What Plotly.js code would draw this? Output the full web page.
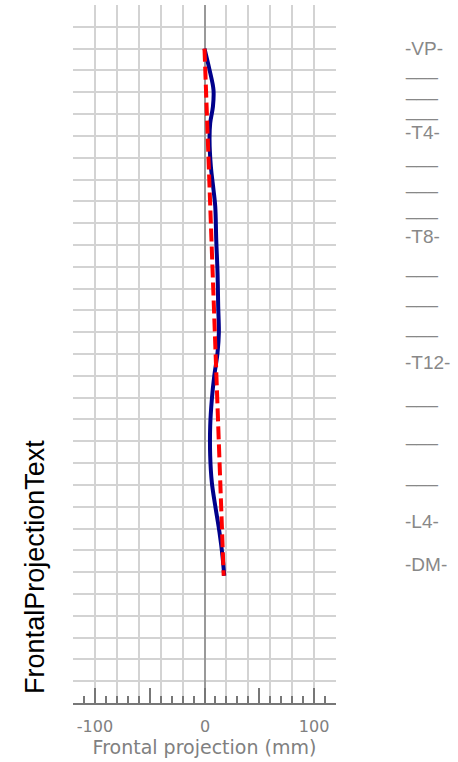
<!DOCTYPE html>
<html>
<head>
<meta charset="utf-8">
<script src="https://cdn.plot.ly/plotly-3.0.1.min.js"></script>
<style>html,body{margin:0;padding:0;background:#fff;}#chart{width:458px;height:762px;}</style>
</head>
<body>
<div id="chart"></div>
<script>
// Measured spine curve (frontal deviation in mm vs distance below VP in mm)
const spineX = [0, 4.6, 8.2, 7.7, 5.2, 4.6, 5.8, 8.2, 9.8, 10.7, 11.9, 12.5, 13.1, 11.9, 8.9, 6.7, 5.2, 5.2, 6.7, 9.8, 13.7, 16.4, 18];
const spineY = [0, 19.5, 37.8, 53.1, 68.3, 83.6, 108, 129.3, 144.6, 175.1, 205.6, 236.2, 260.5, 278.8, 300.2, 321.6, 346, 373.5, 397.8, 419.2, 443.6, 465, 483.3];
// Reference line VP -> DM
const refX = [0, 17.5];
const refY = [0, 483.3];
// Vertebra level labels on the right
const levelText = ['-VP-','___','___','___','-T4-','___','___','___','-T8-','___','___','___','-T12-','___','___','___','-L4-','-DM-'];
const levelY = [0, 18.3, 37.5, 56.4, 77.2, 99.8, 122.9, 147.4, 172.1, 199.8, 227.3, 255.6, 287.4, 319.7, 353.9, 392, 433.9, 472.6];
// X tick labels
const xTickVals = [-100, 100];
const xTickText = ['-100', '100'];
const zeroLabel = '0';

const gridX = []; for (let v = -100; v <= 100; v += 20) gridX.push(v);
const gridY = []; for (let v = -20; v <= 580; v += 20) gridY.push(v);
const gridXText = gridX.map(v => { const i = xTickVals.indexOf(v); return i >= 0 ? xTickText[i] : ''; });

const traces = [
  {x: spineX, y: spineY, type: 'scatter', mode: 'lines', line: {color: '#00008b', width: 4, shape: 'spline'}, xaxis: 'x', yaxis: 'y', hoverinfo: 'skip'},
  {x: refX, y: refY, type: 'scatter', mode: 'lines', line: {color: '#ff0000', width: 4, dash: '13px,5px'}, xaxis: 'x2', yaxis: 'y', hoverinfo: 'skip'}
];

const annotations = levelText.map((t, i) => ({
  text: t, xref: 'paper', yref: 'y', x: 1.255, y: levelY[i], xanchor: 'left', yanchor: 'middle',
  showarrow: false, font: {family: 'Liberation Sans, Arial, sans-serif', size: 19, color: '#888888'}
}));
annotations.push({text: zeroLabel, xref: 'x', yref: 'paper', x: 0, y: 0, yshift: -23, xanchor: 'center', yanchor: 'middle', showarrow: false,
  font: {family: 'DejaVu Sans, Verdana, sans-serif', size: 16, color: '#808080'}});
annotations.push({text: 'FrontalProjectionText', xref: 'paper', yref: 'paper', x: 0, xshift: -38, y: 0.195, textangle: -90,
  xanchor: 'center', yanchor: 'middle', showarrow: false, font: {family: 'Liberation Sans, Arial, sans-serif', size: 27, color: '#000000'}});

const layout = {
  width: 458, height: 762,
  margin: {l: 73, r: 122, t: 5, b: 59, pad: 0},
  paper_bgcolor: '#ffffff', plot_bgcolor: '#ffffff',
  showlegend: false,
  xaxis: {
    range: [-120, 120], tickmode: 'array', tickvals: gridX, ticktext: gridXText,
    showgrid: true, gridcolor: '#d3d3d3', gridwidth: 2,
    zeroline: true, zerolinecolor: '#999999', zerolinewidth: 2,
    showline: true, linecolor: '#777777', linewidth: 2,
    ticks: '', ticklabelstandoff: 8,
    tickfont: {family: 'DejaVu Sans, Verdana, sans-serif', size: 16, color: '#808080'},
    title: {text: 'Frontal projection (mm)', font: {family: 'DejaVu Sans, Verdana, sans-serif', size: 19, color: '#808080'}, standoff: 3},
    fixedrange: true
  },
  xaxis2: {
    overlaying: 'x', anchor: 'y', side: 'bottom', range: [-120, 120],
    tickmode: 'linear', tick0: 0, dtick: 50, ticks: 'inside', ticklen: 15, tickwidth: 2, tickcolor: '#777777',
    showticklabels: false, showgrid: false, zeroline: false, showline: false,
    minor: {ticks: 'inside', ticklen: 7, tickwidth: 2, tickcolor: '#777777', dtick: 10, tick0: 0, showgrid: false},
    fixedrange: true
  },
  yaxis: {
    range: [600, -40], tickmode: 'array', tickvals: gridY, showticklabels: false, ticks: '',
    showgrid: true, gridcolor: '#d3d3d3', gridwidth: 2, zeroline: false, showline: false, fixedrange: true
  },
  annotations: annotations
};

Plotly.newPlot('chart', traces, layout, {displayModeBar: false, staticPlot: true});
</script>
</body>
</html>
